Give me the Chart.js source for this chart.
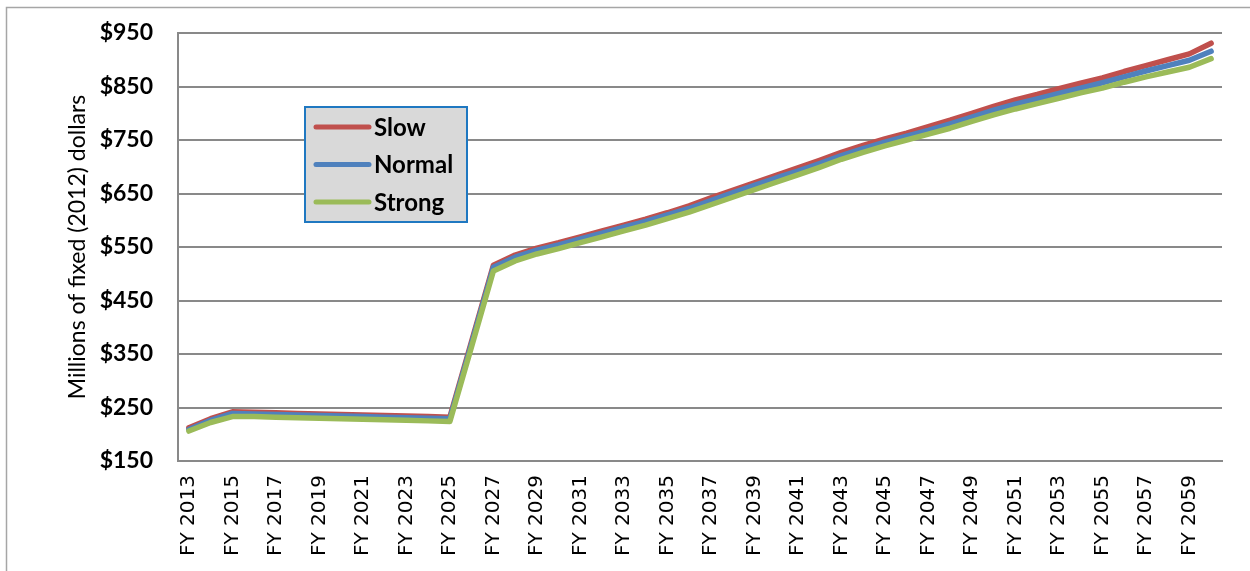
<!DOCTYPE html>
<html>
<head>
<meta charset="utf-8">
<script src="https://cdn.jsdelivr.net/npm/chart.js@4"></script>
<style>
    body { margin: 0; background: #ffffff; }
    #wrap { position: relative; width: 1250px; height: 571px; }
</style>
</head>
<body>
<div id="wrap"><canvas id="budgetChart" width="1250" height="571"></canvas></div>
<script>
// Fiscal years shown on the x axis
let years = [];
for (let y = 2013; y <= 2060; y++) years.push('FY ' + y);

let slowValues = [212, 229, 242, 241, 240, 239, 238, 237, 236, 235, 234, 233, 232, 374, 516, 535, 548, 558,
    569, 580, 591, 602, 614, 627, 642, 656, 670, 684, 698, 712, 727, 740, 752, 763, 775, 787,
    800, 813, 825, 835, 846, 856, 866, 878, 889, 900, 911, 931];
let normalValues = [209, 226, 239, 238, 237, 236, 235, 234, 233, 232, 231, 230, 229, 370, 512, 531, 544, 554,
    565, 576, 587, 598, 610, 622, 637, 651, 665, 679, 692, 706, 721, 734, 746, 757, 768, 780,
    793, 806, 817, 827, 837, 847, 857, 868, 879, 889, 899, 916];
let strongValues = [206, 222, 233, 233, 232, 231, 230, 229, 228, 227, 226, 225, 224, 364, 505, 524, 537, 547,
    558, 569, 580, 591, 603, 615, 629, 643, 657, 671, 685, 699, 714, 727, 739, 750, 761, 772,
    785, 797, 808, 818, 828, 838, 847, 858, 868, 877, 886, 902];

let yTicks = [150, 250, 350, 450, 550, 650, 750, 850, 950];

// outer frame + boxed legend like the original spreadsheet chart
const framePlugin = {
    id: 'frame',
    beforeDraw(chart) {
        const ctx = chart.ctx;
        ctx.save();
        ctx.strokeStyle = '#a6a6a6';
        ctx.lineWidth = 1.5;
        ctx.strokeRect(6.5, 7.5, 1260, 600);
        ctx.restore();
    },
    afterDraw(chart) {
        const ctx = chart.ctx;
        ctx.save();
        ctx.fillStyle = '#d9d9d9';
        ctx.fillRect(305, 107, 162, 115);
        ctx.strokeStyle = '#1f78c1';
        ctx.lineWidth = 2;
        ctx.strokeRect(305, 107, 162, 115);
        ctx.font = 'bold 24px Lato';
        ctx.textBaseline = 'middle';
        chart.data.datasets.forEach((ds, i) => {
            const y = 127 + i * 37.5;
            ctx.strokeStyle = ds.borderColor;
            ctx.lineWidth = 5;
            ctx.lineCap = 'round';
            ctx.beginPath();
            ctx.moveTo(316, y);
            ctx.lineTo(369, y);
            ctx.stroke();
            ctx.fillStyle = '#000000';
            ctx.fillText(ds.label, 374, y + 1);
        });
        ctx.restore();
    }
};

let ctx = document.getElementById('budgetChart').getContext('2d');
let budgetChart = new Chart(ctx, {
    type: 'line',
    data: {
        labels: years,
        datasets: [
            { label: 'Slow', data: slowValues, borderColor: '#c0504d', order: 3 },
            { label: 'Normal', data: normalValues, borderColor: '#4f81bd', order: 2 },
            { label: 'Strong', data: strongValues, borderColor: '#9bbb59', order: 1 }
        ]
    },
    options: {
        responsive: false,
        animation: false,
        devicePixelRatio: 1,
        layout: { padding: { left: 64, top: 33, right: 28, bottom: 0 } },
        elements: {
            point: { radius: 0 },
            line: { borderWidth: 5.5, tension: 0, borderCapStyle: 'round', borderJoinStyle: 'round' }
        },
        plugins: {
            legend: { display: false },
            tooltip: { enabled: false }
        },
        scales: {
            x: {
                offset: true,
                grid: { display: false, drawTicks: false },
                border: { display: true, color: '#898989', width: 2 },
                afterFit: function(scale) { scale.height = 110; },
                ticks: {
                    autoSkip: false,
                    maxRotation: 90,
                    minRotation: 90,
                    padding: 14,
                    color: '#000000',
                    font: { family: 'DejaVu Sans', size: 20 },
                    callback: function(value, index) {
                        return index % 2 === 0 ? this.getLabelForValue(value) : '';
                    }
                }
            },
            y: {
                min: 150,
                max: 950,
                afterFit: function(scale) {
                    scale.width = 114;
                    scale.paddingTop = 0;
                },
                afterBuildTicks: function(scale) {
                    scale.ticks = yTicks.map(v => ({ value: v }));
                },
                grid: { color: '#898989', lineWidth: 2, drawTicks: false },
                border: { display: true, color: '#898989', width: 2 },
                title: {
                    display: true,
                    text: 'Millions of fixed (2012) dollars',
                    color: '#000000',
                    padding: 0,
                    font: { family: 'Lato', size: 23 }
                },
                ticks: {
                    padding: 25,
                    color: '#000000',
                    font: { family: 'Lato', size: 23, weight: 'bold', lineHeight: 1 },
                    callback: function(value) { return '$' + value; }
                }
            }
        }
    },
    plugins: [framePlugin]
});
</script>
</body>
</html>
